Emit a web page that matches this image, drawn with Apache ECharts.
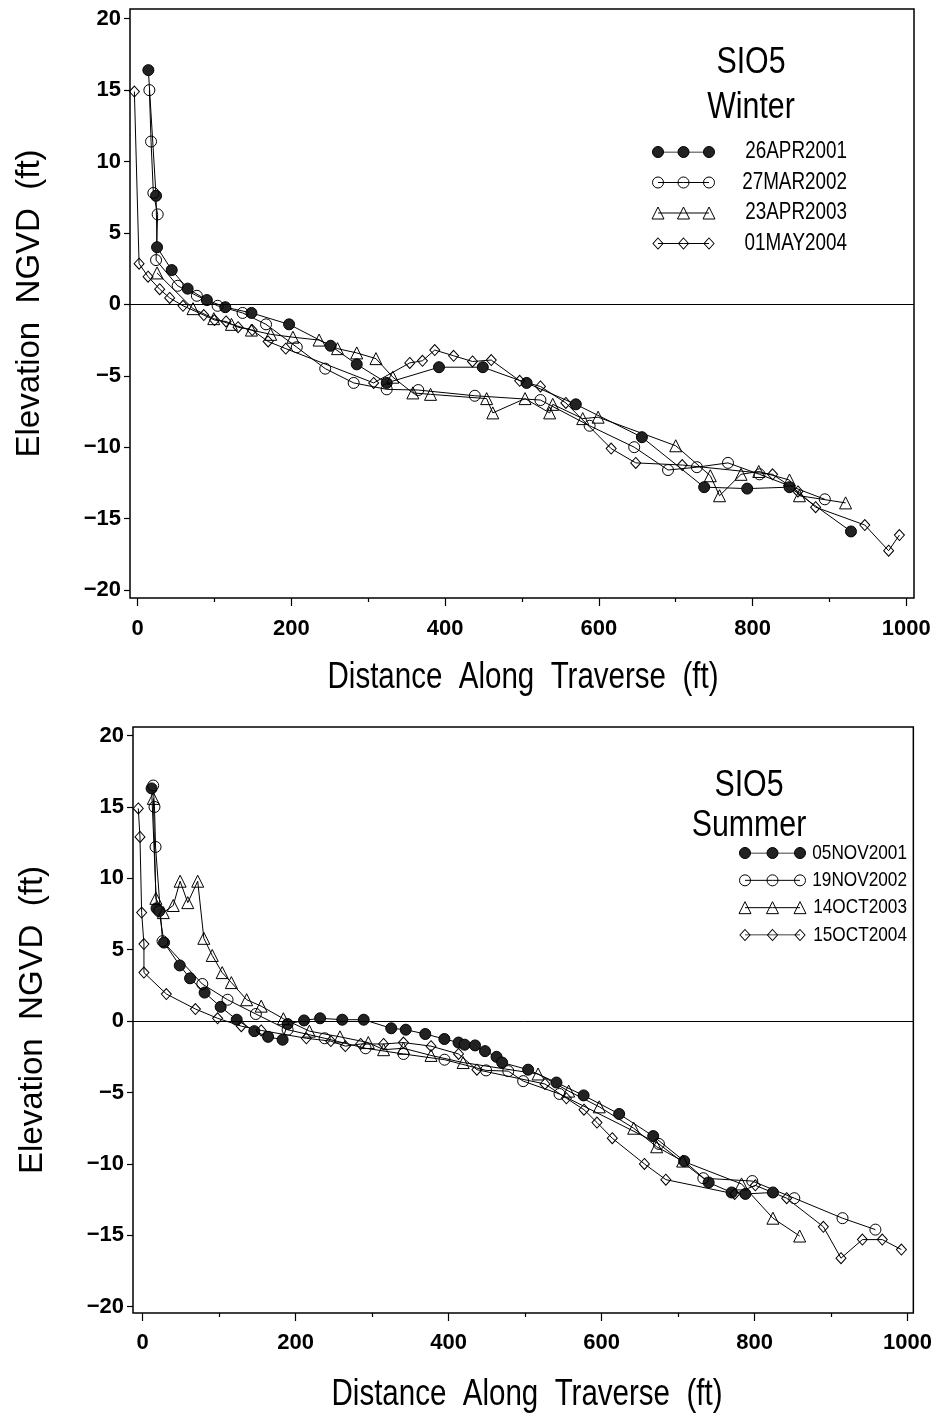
<!DOCTYPE html>
<html><head><meta charset="utf-8">
<script src="https://cdn.jsdelivr.net/npm/echarts@6/dist/echarts.min.js"></script>
<style>html,body{margin:0;padding:0;background:#fff}#c{width:935px;height:1416px}</style>
</head><body><div id="c"></div>
<script>
// ---------- data ----------
var winterDates = ['26APR2001','27MAR2002','23APR2003','01MAY2004'];
var summerDates = ['05NOV2001','19NOV2002','14OCT2003','15OCT2004'];
var xTicks = [0,200,400,600,800,1000];
var xMinorTicks = [100,300,500,700,900];
var yTicks = [-20,-15,-10,-5,0,5,10,15,20];

var w2001 = [[13.9,16.4],[23.9,7.6],[25.2,4.0],[44.3,2.4],[65,1.1],[90,0.3],[114,-0.2],[148,-0.6],[197,-1.4],[251,-2.9],[285,-4.2],[324,-5.5],[392,-4.4],[449,-4.4],[506,-5.5],[570,-7.0],[656,-9.3],[737,-12.8],[793,-12.9],[848,-12.8],[928,-15.9]];
var w2002 = [[15.2,15.0],[17.4,11.4],[20.4,7.8],[26,6.3],[23.9,3.1],[52,1.3],[77,0.6],[104,-0.1],[136.5,-0.6],[167,-1.4],[207,-3.0],[244,-4.5],[281,-5.5],[324,-5.95],[365,-6.0],[438.6,-6.4],[524,-6.7],[588,-8.5],[646,-10.0],[690,-11.6],[727.5,-11.4],[768,-11.1],[809,-11.9],[894,-13.65]];
var w2003 = [[25.2,2.2],[72,-0.3],[99,-1.0],[122,-1.4],[148,-1.8],[173,-2.1],[202,-2.3],[236,-2.5],[260,-3.1],[285,-3.4],[310,-3.8],[332,-5.1],[358,-6.2],[381,-6.3],[454,-6.6],[462,-7.6],[504,-6.6],[536,-7.6],[540,-7.0],[579,-8.0],[599,-7.9],[700,-9.9],[745,-12.0],[757,-13.4],[785,-11.9],[808,-11.7],[848,-12.3],[861,-13.4],[921,-13.9]];
var w2004 = [[-4.3,14.9],[1.8,2.85],[13.5,1.94],[28.6,1.06],[41.6,0.45],[59,-0.1],[86,-0.75],[100,-1.1],[115,-1.2],[130.6,-1.6],[149,-1.8],[169.7,-2.6],[192.6,-3.1],[307,-5.5],[354,-4.1],[370.5,-3.95],[386.5,-3.2],[411,-3.6],[435.6,-4.0],[460,-3.9],[497,-5.35],[524,-5.75],[557,-6.9],[616,-10.1],[648,-11.1],[708.5,-11.25],[826,-11.9],[859,-13.1],[882,-14.2],[946,-15.45],[977,-17.25],[991,-16.15]];

var s2001 = [[11.7,16.3],[18.2,7.9],[21.6,7.7],[28,5.5],[48.5,3.9],[62,3.0],[81,2.0],[102,1.0],[123,0.1],[146,-0.7],[164,-1.1],[183,-1.3],[189.5,-0.2],[211,0.05],[232,0.2],[261,0.1],[289,0.1],[325,-0.5],[344,-0.6],[369.5,-0.9],[394.5,-1.25],[413,-1.5],[421,-1.65],[434.6,-1.7],[447.6,-2.1],[462.7,-2.5],[470,-2.9],[504,-3.4],[541,-4.3],[576.5,-5.2],[623,-6.5],[667.5,-8.05],[708,-9.8],[740,-11.3],[770,-12.0],[788,-12.1],[824,-12.0]];
var s2002 = [[13.8,16.5],[15.5,15.0],[16.9,12.2],[26,5.6],[78,2.6],[111,1.5],[148,0.5],[189.5,-0.6],[238,-1.2],[291.5,-1.9],[341,-2.3],[394.7,-2.7],[449,-3.45],[478,-3.5],[497.5,-4.2],[545,-5.1],[675,-8.6],[733,-11.0],[797,-11.2],[852,-12.4],[915,-13.8],[958,-14.6]];
var s2003 = [[14,15.6],[17.3,8.6],[27,7.6],[40,8.1],[49,9.8],[59,8.3],[72,9.8],[80,5.8],[91,4.6],[104,3.4],[116,2.7],[136,1.5],[155,1.05],[184,0.17],[218,-0.7],[258,-1.1],[295,-1.5],[315,-2.0],[341,-1.9],[377,-2.4],[419,-2.9],[517,-3.7],[557,-4.9],[597,-6.0],[642,-7.5],[672,-8.8],[706,-9.8],[783,-11.4],[824,-13.8],[859,-15.05]];
var s2004 = [[-5.7,14.9],[-3.5,12.9],[-1.3,7.6],[1.7,5.4],[1.7,3.4],[31,1.9],[69,0.85],[98,0.2],[129,-0.35],[155,-0.65],[214,-1.2],[246,-1.4],[265,-1.75],[285,-1.6],[315,-1.6],[341,-1.5],[377,-1.75],[413,-2.3],[437,-3.4],[526,-4.4],[554,-5.4],[577,-6.2],[594,-7.1],[614,-8.2],[656,-10.0],[684,-11.1],[774,-12.1],[801,-11.5],[842,-12.4],[890,-14.4],[913,-16.6],[941,-15.3],[967,-15.3],[992,-16.0]];

var winterData = [w2001, w2002, w2003, w2004];
var summerData = [s2001, s2002, s2003, s2004];

// ---------- styles ----------
var FONT = "'Liberation Sans',Arial,Helvetica,sans-serif";
var NX = 0.82; // horizontal squeeze to mimic the narrow face of the original
var marks = [
  {symbol:'circle', size:11, color:'#222222'},
  {symbol:'circle', size:11, color:'rgba(255,255,255,0)'},
  {symbol:'triangle', size:12, color:'rgba(255,255,255,0)'},
  {symbol:'diamond', size:[10,11], color:'rgba(255,255,255,0)'}
];

var chart = echarts.init(document.getElementById('c'), null, {renderer:'canvas'});

function xAxisPair(gi, min, max, margin) {
  return [{
    type:'value', gridIndex:gi, min:min, max:max, position:'bottom',
    axisLine:{show:false, onZero:false},
    axisTick:{show:true, length:8, customValues:xTicks, lineStyle:{color:'#000', width:1.2}},
    axisLabel:{customValues:xTicks, fontFamily:FONT, fontWeight:'bold', fontSize:22, color:'#000', margin:margin,
      formatter:function(v){ return String(v); }},
    splitLine:{show:false}
  },{
    type:'value', gridIndex:gi, min:min, max:max, position:'bottom',
    axisLine:{show:false, onZero:false},
    axisTick:{show:true, length:4, customValues:xMinorTicks, lineStyle:{color:'#000', width:1.2}},
    axisLabel:{show:false}, splitLine:{show:false}
  }];
}
function yAxisOf(gi, min, max) {
  return {
    type:'value', gridIndex:gi, min:min, max:max,
    axisLine:{show:false, onZero:false},
    axisTick:{show:true, length:6, customValues:yTicks, lineStyle:{color:'#000', width:1.2}},
    axisLabel:{customValues:yTicks, fontFamily:FONT, fontWeight:'bold', fontSize:22, color:'#000', margin:9,
      formatter:function(v){ return (v<0?'\u2212':'') + Math.abs(v); }},
    splitLine:{show:false},
    name:'Elevation  NGVD  (ft)', nameLocation:'middle', nameGap:84,
    nameTextStyle:{fontFamily:FONT, fontSize:33, color:'#000'}
  };
}
function hiddenAxis(gi, min, max, inverse) {
  return {type:'value', gridIndex:gi, min:min, max:max, inverse:!!inverse, show:false};
}

var xAxes = [].concat(
  xAxisPair(0, -10, 1010, 20),
  xAxisPair(1, -12.6, 1007.6, 19),
  [hiddenAxis(2,0,2), hiddenAxis(3,0,2)]
);
var yAxes = [yAxisOf(0, -20.56, 20.68), yAxisOf(1, -20.44, 20.6),
  hiddenAxis(2,0,3,true), hiddenAxis(3,0,3,true)];

var series = [];
function addChart(dataSets, names, xi, yi) {
  dataSets.forEach(function(d, i){
    var m = marks[i];
    var s = {
      type:'line', name:names[i], xAxisIndex:xi, yAxisIndex:yi, data:d,
      symbol:m.symbol, symbolSize:m.size, showAllSymbol:true,
      lineStyle:{color:'#000', width:1},
      itemStyle:{color:m.color, borderColor:'#000', borderWidth:1},
      z:3, animation:false
    };
    if (i === 0) {
      s.markLine = {silent:true, symbol:'none', label:{show:false}, animation:false,
        lineStyle:{color:'#000', width:1, type:'solid'}, data:[{yAxis:0}]};
    }
    series.push(s);
  });
}
addChart(winterData, winterDates, 0, 0);
addChart(summerData, summerDates, 2, 1);

// legend samples (three symbols joined by a line) drawn in small hidden grids
function addLegend(names, xi, yi) {
  names.forEach(function(n, i){
    var m = marks[i];
    series.push({
      type:'line', name:n+' ', xAxisIndex:xi, yAxisIndex:yi,
      data:[[0,i],[1,i],[2,i]],
      symbol:m.symbol, symbolSize:m.size, showAllSymbol:true,
      lineStyle:{color:'#000', width:1},
      itemStyle:{color:m.color, borderColor:'#000', borderWidth:1},
      silent:true, animation:false
    });
  });
}
addLegend(winterDates, 4, 2);
addLegend(summerDates, 5, 3);

function txt(s, x, y, size, align) {
  return {type:'text', x:x, y:y, scaleX:NX, silent:true,
    style:{text:s, fontFamily:FONT, fontSize:size, fill:'#000', textAlign:align||'center', textVerticalAlign:'middle'}};
}
var graphics = [
  txt('SIO5', 751, 63, 37), txt('Winter', 751, 108, 37),
  txt('SIO5', 749, 786, 37), txt('Summer', 749, 826, 37),
  txt('Distance  Along  Traverse  (ft)', 523, 678, 36),
  txt('Distance  Along  Traverse  (ft)', 527, 1395, 36)
];
var legTopY = [152, 182.5, 213, 243.5];
var legBotY = [853, 880.3, 907.6, 935];
winterDates.forEach(function(n, i){ graphics.push(txt(n, 847, legTopY[i], 23, 'right')); });
summerDates.forEach(function(n, i){ graphics.push(txt(n, 907, legBotY[i], 21, 'right')); });

var option = {
  backgroundColor:'#fff',
  animation:false,
  grid:[
    {left:130, top:9, width:784, height:589, show:true, borderColor:'#000', borderWidth:1.5, backgroundColor:'rgba(0,0,0,0)'},
    {left:133, top:727, width:784, height:586, show:true, borderColor:'#000', borderWidth:1.5, backgroundColor:'rgba(0,0,0,0)'},
    {left:658, top:152, width:51, height:91.5},
    {left:745, top:853, width:55, height:82}
  ],
  xAxis: xAxes,
  yAxis: yAxes,
  series: series,
  graphic: graphics
};
chart.setOption(option);
</script></body></html>
